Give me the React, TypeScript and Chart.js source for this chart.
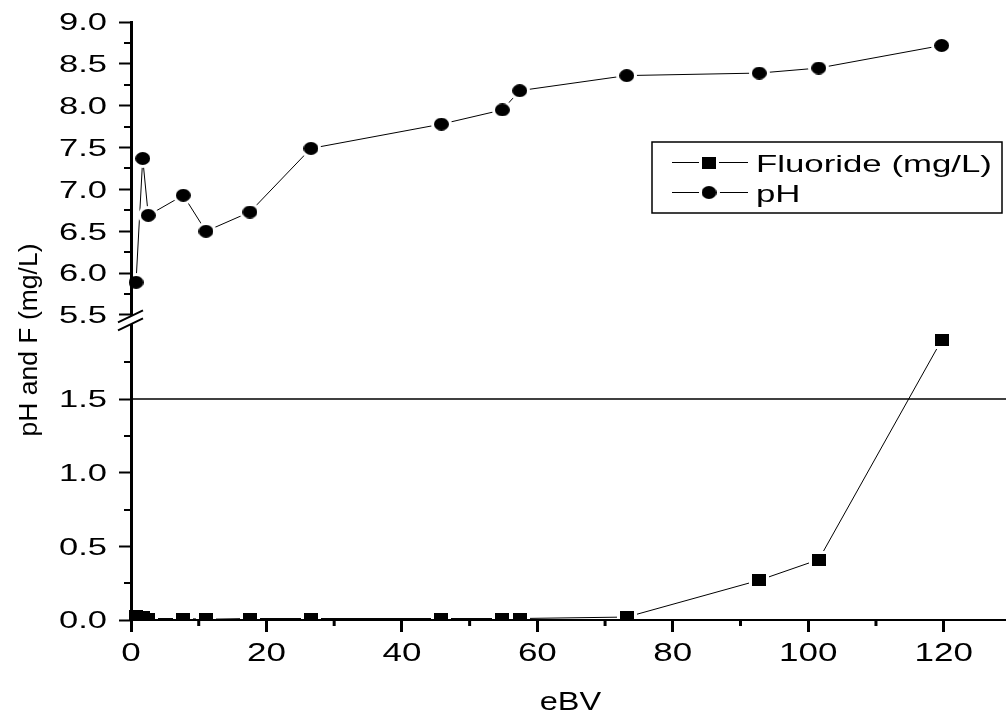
import React, { useEffect, useRef } from 'react';
import { Chart, registerables } from 'chart.js';

Chart.register(...registerables);

// ---- data ----
const eBV = [0.74, 1.73, 2.55, 7.72, 11.07, 17.56, 26.57, 45.83, 54.83, 57.4, 73.2, 92.77, 101.55, 119.7];
const pHValues = [5.89, 7.37, 6.69, 6.93, 6.5, 6.73, 7.49, 7.78, 7.95, 8.18, 8.36, 8.39, 8.45, 8.72];
const fluorideValues = [0.03, 0.02, 0.01, 0.01, 0.005, 0.01, 0.01, 0.01, 0.01, 0.01, 0.02, 0.27, 0.41, 1.9];
const fluorideLimit = 1.5;

const seriesLabels = ['Fluoride (mg/L)', 'pH'];
const xTitle = 'eBV';
const yTitle = 'pH and F (mg/L)';

const xMajorTicks = [0, 20, 40, 60, 80, 100, 120];
const xMinorTicks = [10, 30, 50, 70, 90, 110];
const upperMajorTicks = [5.5, 6.0, 6.5, 7.0, 7.5, 8.0, 8.5, 9.0];
const upperMinorTicks = [5.75, 6.25, 6.75, 7.25, 7.75, 8.25, 8.75];
const lowerMajorTicks = [0.0, 0.5, 1.0, 1.5];
const lowerMinorTicks = [0.25, 0.75, 1.25, 1.75];

const X_MIN = 0;
const X_MAX = 129.2;
const UPPER_MIN = 5.341;
const UPPER_MAX = 9.0;
const LOWER_MIN = 0;
const LOWER_MAX = 1.98;

const FONT = '"Liberation Sans", Arial, Helvetica, sans-serif';

function makeMarker(shape: 'square' | 'circle', w: number, h: number, halo: number, color: string) {
  const c = document.createElement('canvas');
  c.width = w + 2 * halo;
  c.height = h + 2 * halo;
  const ctx = c.getContext('2d')!;
  ctx.fillStyle = color;
  if (shape === 'square') {
    ctx.fillRect(0, 0, c.width, c.height);
  } else {
    ctx.beginPath();
    ctx.ellipse(c.width / 2, c.height / 2, c.width / 2, c.height / 2, 0, 0, Math.PI * 2);
    ctx.fill();
  }
  return c;
}

function stretchedText(
  ctx: CanvasRenderingContext2D,
  text: string,
  x: number,
  y: number,
  size: number,
  sx: number,
  align: CanvasTextAlign
) {
  ctx.save();
  ctx.translate(x, y);
  ctx.scale(sx, 1);
  ctx.font = `${size}px ${FONT}`;
  ctx.textAlign = align;
  ctx.textBaseline = 'alphabetic';
  ctx.fillStyle = '#000';
  ctx.fillText(text, 0, 0);
  ctx.restore();
}

export default function App() {
  const ref = useRef<HTMLCanvasElement>(null);

  useEffect(() => {
    document.body.style.margin = '0';
    const square = makeMarker('square', 14, 12, 0, '#000');
    const squareHalo = makeMarker('square', 14, 12, 3, '#fff');
    const circle = makeMarker('circle', 15, 13, 0, '#000');
    const circleHalo = makeMarker('circle', 15, 13, 3, '#fff');

    const decorPlugin = {
      id: 'decor',
      afterDraw(chart: any) {
        const ctx: CanvasRenderingContext2D = chart.ctx;
        const xs = chart.scales.x;
        const yu = chart.scales.yUpper;
        const yl = chart.scales.yLower;
        const area = chart.chartArea;

        // minor ticks
        ctx.save();
        ctx.strokeStyle = '#000';
        ctx.lineWidth = 2;
        [...upperMinorTicks.map((v) => yu.getPixelForValue(v)), ...lowerMinorTicks.map((v) => yl.getPixelForValue(v))].forEach((py) => {
          ctx.beginPath();
          ctx.moveTo(area.left - 7, Math.round(py));
          ctx.lineTo(area.left, Math.round(py));
          ctx.stroke();
        });
        ctx.lineWidth = 3;
        xMinorTicks.forEach((v) => {
          const px = xs.getPixelForValue(v);
          ctx.beginPath();
          ctx.moveTo(px, area.bottom);
          ctx.lineTo(px, area.bottom + 6);
          ctx.stroke();
        });
        ctx.restore();

        // tick labels
        xMajorTicks.forEach((v) => {
          stretchedText(ctx, String(v), xs.getPixelForValue(v), 661, 25, 1.4, 'center');
        });
        upperMajorTicks.forEach((v) => {
          stretchedText(ctx, v.toFixed(1), 107, yu.getPixelForValue(v) + 8.3, 23, 1.5, 'right');
        });
        lowerMajorTicks.forEach((v) => {
          stretchedText(ctx, v.toFixed(1), 107, yl.getPixelForValue(v) + 8.3, 23, 1.5, 'right');
        });

        // axis break
        const bx = area.left;
        const by = yl.top;
        ctx.save();
        ctx.fillStyle = '#fff';
        ctx.beginPath();
        ctx.moveTo(bx - 13, by - 6);
        ctx.lineTo(bx + 12, by - 18);
        ctx.lineTo(bx + 12, by - 10);
        ctx.lineTo(bx - 13, by + 2);
        ctx.closePath();
        ctx.fill();
        ctx.strokeStyle = '#000';
        ctx.lineWidth = 2;
        ctx.beginPath();
        ctx.moveTo(bx - 13, by - 6);
        ctx.lineTo(bx + 12, by - 18);
        ctx.moveTo(bx - 13, by + 2);
        ctx.lineTo(bx + 12, by - 10);
        ctx.stroke();
        ctx.restore();

        // legend
        ctx.save();
        ctx.strokeStyle = '#000';
        ctx.lineWidth = 1.5;
        ctx.strokeRect(652, 142, 350, 71);
        ctx.lineWidth = 1;
        const rows = [
          { y: 162, img: square, halo: squareHalo, label: seriesLabels[0] },
          { y: 192, img: circle, halo: circleHalo, label: seriesLabels[1] },
        ];
        rows.forEach((r) => {
          ctx.beginPath();
          ctx.moveTo(672, r.y + 0.5);
          ctx.lineTo(748, r.y + 0.5);
          ctx.stroke();
          ctx.drawImage(r.halo, 709 - r.halo.width / 2, r.y - r.halo.height / 2 + 0.5);
          ctx.drawImage(r.img, 709 - r.img.width / 2, r.y - r.img.height / 2 + 0.5);
          stretchedText(ctx, r.label, 756, r.y + 10, 24, 1.45, 'left');
        });
        ctx.restore();

        // axis titles
        stretchedText(ctx, xTitle, (area.left + area.right) / 2 + 2, 710, 25, 1.3, 'center');
        ctx.save();
        ctx.translate(37, 340);
        ctx.rotate(-Math.PI / 2);
        ctx.font = `26.5px ${FONT}`;
        ctx.textAlign = 'center';
        ctx.textBaseline = 'alphabetic';
        ctx.fillStyle = '#000';
        ctx.fillText(yTitle, 0, 0);
        ctx.restore();
      },
    };

    const yCommon = {
      type: 'linear' as const,
      position: 'left' as const,
      stack: 'ph',
      ticks: { display: false },
      grid: { drawOnChartArea: false, drawTicks: true, tickLength: 12, tickWidth: 2, tickColor: '#000', z: 1 },
      border: { display: true, color: '#000', width: 3, z: 1 },
      afterFit: (s: any) => {
        s.width = 131;
      },
    };

    const fluoridePts = eBV.map((x, i) => ({ x, y: fluorideValues[i] }));
    const pHPts = eBV.map((x, i) => ({ x, y: pHValues[i] }));
    const clipLow = { left: 20, right: 20, top: 20, bottom: 0 };
    const clipUp = { left: 20, right: 20, top: 20, bottom: 20 };

    const lineDs = (label: string, data: any[], yAxisID: string, clip: any, width = 1) => ({
      label, data, xAxisID: 'x', yAxisID, borderColor: '#000', borderWidth: width,
      pointRadius: 0, tension: 0, clip, order: 3,
    });
    const markDs = (label: string, data: any[], yAxisID: string, clip: any, img: any, order: number) => ({
      label, data, xAxisID: 'x', yAxisID, showLine: false, pointStyle: img, pointRadius: 7,
      borderColor: '#000', backgroundColor: '#000', clip, order,
    });

    const chart = new Chart(ref.current!, {
      type: 'line',
      data: {
        datasets: [
          lineDs('limit', [{ x: X_MIN, y: fluorideLimit }, { x: X_MAX, y: fluorideLimit }], 'yLower', clipLow, 1.5),
          lineDs(seriesLabels[0], fluoridePts, 'yLower', clipLow),
          lineDs(seriesLabels[1], pHPts, 'yUpper', clipUp),
          markDs(seriesLabels[0] + ' halo', fluoridePts, 'yLower', clipLow, squareHalo, 2),
          markDs(seriesLabels[1] + ' halo', pHPts, 'yUpper', clipUp, circleHalo, 2),
          markDs(seriesLabels[0] + ' marks', fluoridePts, 'yLower', clipLow, square, 1),
          markDs(seriesLabels[1] + ' marks', pHPts, 'yUpper', clipUp, circle, 1),
        ],
      },
      options: {
        responsive: false,
        animation: false,
        devicePixelRatio: 1,
        layout: { autoPadding: false, padding: { top: 22, left: 0, right: 0, bottom: 0 } },
        plugins: {
          legend: { display: false },
          title: { display: false },
          tooltip: { enabled: false },
        },
        scales: {
          x: {
            type: 'linear',
            position: 'bottom',
            min: X_MIN,
            max: X_MAX,
            ticks: { display: false },
            afterBuildTicks: (s: any) => {
              s.ticks = xMajorTicks.map((v) => ({ value: v }));
            },
            grid: { drawOnChartArea: false, drawTicks: true, tickLength: 12, tickWidth: 3, tickColor: '#000', z: 1 },
            border: { display: true, color: '#000', width: 2, z: 1 },
            afterFit: (s: any) => {
              s.height = 96;
            },
          },
          yLower: {
            ...yCommon,
            weight: 1,
            stackWeight: 291.7,
            min: LOWER_MIN,
            max: LOWER_MAX,
            afterBuildTicks: (s: any) => {
              s.ticks = lowerMajorTicks.map((v) => ({ value: v }));
            },
          },
          yUpper: {
            ...yCommon,
            weight: 2,
            stackWeight: 306.3,
            min: UPPER_MIN,
            max: UPPER_MAX,
            afterBuildTicks: (s: any) => {
              s.ticks = upperMajorTicks.map((v) => ({ value: v }));
            },
          },
        } as any,
      },
      plugins: [decorPlugin],
    } as any);

    return () => chart.destroy();
  }, []);

  return (
    <canvas
      ref={ref}
      width={1006}
      height={716}
      style={{ display: 'block', width: '1006px', height: '716px' }}
    />
  );
}
